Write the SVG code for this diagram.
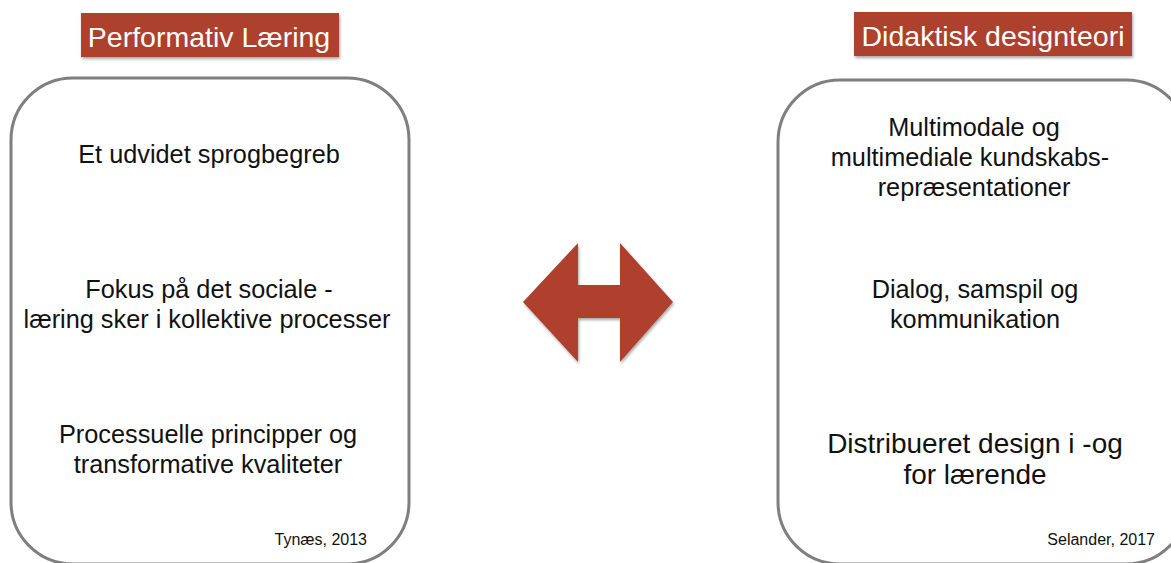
<svg xmlns="http://www.w3.org/2000/svg" width="1171" height="563" viewBox="0 0 1171 563">
<defs>
<filter id="sh" x="-10%" y="-10%" width="130%" height="130%">
<feGaussianBlur in="SourceAlpha" stdDeviation="1.5"/>
<feOffset dx="1" dy="2" result="b"/>
<feComponentTransfer><feFuncA type="linear" slope="0.35"/></feComponentTransfer>
<feMerge><feMergeNode/><feMergeNode in="SourceGraphic"/></feMerge>
</filter>
</defs>
<style>
.box{fill:#ffffff;stroke:#7f7f7f;stroke-width:3}
.tbg{fill:#ae3f2e}
.title{font-family:"Liberation Sans",Arial,sans-serif;font-size:28.5px;fill:#ffffff;text-anchor:middle}
.t{font-family:"Liberation Sans",Arial,sans-serif;font-size:25.3px;fill:#111111;text-anchor:middle}
.big{font-size:28px}
.ref{font-family:"Liberation Sans",Arial,sans-serif;font-size:16px;fill:#111111;text-anchor:end}
.arrow{fill:#b0412f}
</style>
<rect width="1171" height="563" fill="#ffffff"/>
<g id="title-left">
<rect class="tbg" x="81" y="13" width="258" height="44" filter="url(#sh)"/>
<text class="title" x="209" y="47">Performativ Læring</text>
</g>
<g id="title-right">
<rect class="tbg" x="854" y="12" width="278" height="44" filter="url(#sh)"/>
<text class="title" x="993" y="46">Didaktisk designteori</text>
</g>
<g id="box-left">
<rect class="box" x="11" y="78" width="398" height="486" rx="62" ry="62"/>
<text class="t" x="209" y="163">Et udvidet sprogbegreb</text>
<text class="t" x="209" y="298">Fokus på det sociale -</text>
<text class="t" x="207" y="328">læring sker i kollektive processer</text>
<text class="t" x="208" y="443">Processuelle principper og</text>
<text class="t" x="208" y="473">transformative kvaliteter</text>
<text class="ref" x="367" y="545">Tynæs, 2013</text>
</g>
<g id="box-right">
<rect class="box" x="778" y="80" width="410" height="484" rx="62" ry="62"/>
<text class="t" x="974" y="136">Multimodale og</text>
<text class="t" x="970" y="166">multimediale kundskabs-</text>
<text class="t" x="974" y="196">repræsentationer</text>
<text class="t" x="975" y="298">Dialog, samspil og</text>
<text class="t" x="975" y="328">kommunikation</text>
<text class="t big" x="975" y="453">Distribueret design i -og</text>
<text class="t big" x="975" y="484">for lærende</text>
<text class="ref" x="1155" y="545">Selander, 2017</text>
</g>
<g id="connectors">
<polygon class="arrow" filter="url(#sh)" points="523,302 578,243 578,285 620,285 620,243 673,302 620,362 620,318 578,318 578,362"/>
</g>
</svg>
